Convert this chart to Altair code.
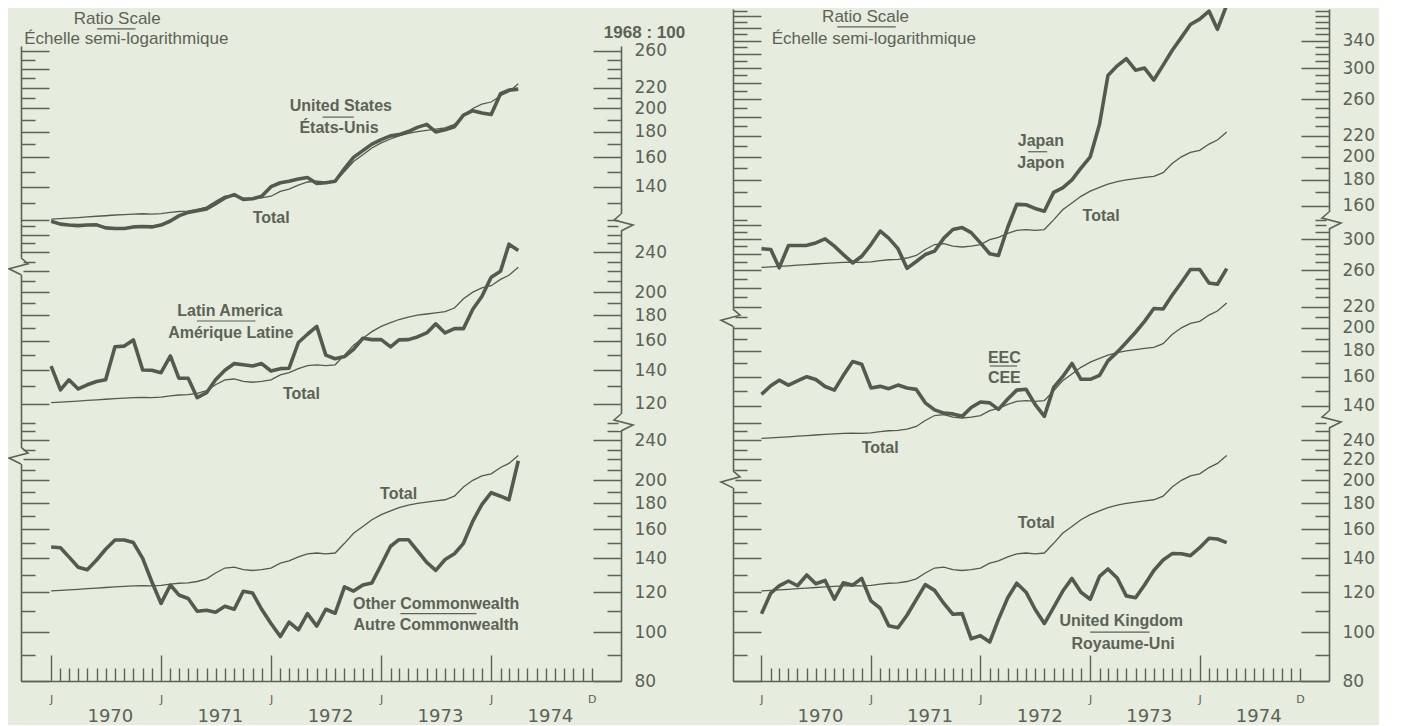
import altair as alt
import pandas as pd
import math

# ---------------- data (monthly, Jan 1970 - Apr 1974, 1968 = 100) ----------------
START = pd.Timestamp("1970-01-01")
DATES = [d.strftime("%Y-%m-%dT00:00:00") for d in pd.date_range("1970-01-01", periods=52, freq="MS")]

total = [120.7, 121, 121.3, 121.6, 122, 122.3, 122.6, 123, 123.2, 123.5,
         123.7, 123.5, 123.8, 124.5, 125, 125.2, 126, 127.5, 131, 134,
         134.5, 133, 132.5, 133, 134, 137, 138.5, 141, 143, 143.5,
         143, 143.5, 150, 157, 162, 167, 171, 174, 176.5, 178.5,
         180, 181, 182, 183, 186, 194, 200, 204, 206, 212,
         216, 224]

united_states = [119.5, 118, 117.5, 117.2, 117.5, 117.6, 116, 115.7, 115.7, 116.5,
                 116.7, 116.5, 117.5, 119.7, 122.5, 124.5, 125.5, 126.5, 129.5, 133,
                 135, 132, 132.5, 134, 140, 142.5, 143.5, 145, 146, 142,
                 142.5, 143.5, 152, 160, 165, 170, 173.5, 176.5, 177.5, 180,
                 183.5, 186, 179.7, 181.5, 184, 194, 198, 196, 194.5, 214,
                 217.5, 218.5]

latin_america = [142.7, 128, 134, 128.5, 131, 133, 134, 155.8, 156.3, 160.8,
                 140.1, 140, 138.4, 149.4, 135, 135, 123.5, 126.3, 134, 140,
                 144.3, 143.5, 142.7, 144.3, 139.5, 141, 141.3, 158.9, 165, 171,
                 150, 147.5, 149, 154, 162, 161, 161, 155.8, 160.8, 161,
                 163, 166, 173, 166, 169.3, 169.3, 185, 196, 214, 220,
                 249, 242]

other_commonwealth = [147.5, 147, 141, 134.5, 133, 139, 146, 152.3, 152.3, 150.5,
                      140, 126, 114, 124, 118.5, 116.6, 110, 110.5, 109.5, 112.5,
                      111, 120.5, 119.5, 111, 104, 98, 104.7, 101, 108.8, 102.8,
                      111, 109, 123, 120.6, 124, 125.2, 136, 148, 152.5, 152.5,
                      145, 137.5, 132.6, 139.3, 143, 150, 166, 179, 189, 186,
                      183, 218.7]

japan = [131.5, 131, 120.5, 133.4, 133.4, 133.5, 135, 137.5, 133, 128,
         123.2, 127, 134, 142.5, 138, 131.5, 120.2, 124, 128, 130,
         138, 143.5, 144.8, 141.5, 135, 128.5, 127.5, 145, 161, 160.7,
         158, 156, 170, 173.5, 180, 190, 200, 232, 290, 303,
         313, 297, 300, 284, 304, 325, 345, 366, 375, 389,
         358, 400]

eec = [147.6, 153.5, 157.5, 154, 157, 160, 158, 153, 150.5, 161,
       171.5, 169.4, 152, 153.1, 151.5, 154, 152, 151, 142, 137.5,
       135.5, 135, 133.5, 139, 142.5, 142, 137.8, 144.5, 150.5, 151.1,
       141, 133.5, 152.4, 160, 170, 158.1, 158.1, 161, 172, 179,
       187, 196, 206, 218.5, 218, 232, 246, 261, 261, 245.5,
       244, 262]

united_kingdom = [108.8, 119.5, 123.5, 126.3, 123.6, 129.8, 124.7, 126.6, 116.2, 125.3,
                  123.9, 127.8, 115.3, 111.5, 103, 102, 108, 116, 124.2, 121,
                  114, 108.5, 108.8, 97, 98.4, 95.6, 106, 117, 125, 120,
                  111, 104, 112, 120.5, 127.8, 120, 116.2, 129, 133.4, 128,
                  118, 117, 124, 132.5, 139, 143.1, 143, 141.8, 147, 153.5,
                  153, 150.5]

# tick labels shown on each right-hand axis
labels_lt = [260, 220, 200, 180, 160, 140]
labels_lm = [240, 200, 180, 160, 140, 120]
labels_lb = [240, 200, 180, 160, 140, 120, 100, 80]
labels_rt = [340, 300, 260, 220, 200, 180, 160]
labels_rm = [300, 260, 220, 200, 180, 160, 140]
labels_rb = [240, 220, 200, 180, 160, 140, 120, 100, 80]

# ---------------- annotations (label, month offset from Jan 1970, index value) ----------------
bold_us = [("United States", 31.6, 202.3), ("États-Unis", 31.4, 183.0), ("Total", 24.0, 121.6)]
plain_us = [("Ratio Scale", 7.2, 300.9), ("Échelle semi-logarithmique", 8.2, 274.6)]
bars_us = [(29.6, 33.0, 192.3), (5.0, 9.2, 287.5)]

bold_la = [("Latin America", 19.5, 183.4), ("Amérique Latine", 19.6, 166.2), ("Total", 27.3, 125.8)]
bars_la = [(15.9, 22.3, 175.3)]

bold_oc = [("Total", 37.9, 188.1), ("Other Commonwealth", 42.0, 113.6), ("Autre Commonwealth", 42.0, 103.3)]
bars_oc = [(38.1, 46.4, 108.8)]

bold_jp = [("Japan", 30.6, 214.9), ("Japon", 30.6, 194.7), ("Total", 37.2, 152.6)]
plain_jp = [("Ratio Scale", 11.4, 378.7), ("Échelle semi-logarithmique", 12.3, 343.2)]
bars_jp = [(29.2, 31.3, 204.7), (8.3, 14.7, 361.9)]

bold_eec = [("EEC", 26.6, 174.5), ("CEE", 26.6, 159.3), ("Total", 13.0, 115.4)]
bars_eec = [(25.0, 28.0, 168.0)]

bold_uk = [("Total", 30.1, 164.9), ("United Kingdom", 39.4, 105.1), ("Royaume-Uni", 39.6, 94.6)]
bars_uk = [(36.0, 42.5, 100.0)]

# scale breaks on the frame: (side, index value where the break sits)
breaks_lm = [("right", 274.3), ("left", 224.6)]
breaks_lb = [("right", 259.8), ("left", 223.4)]
breaks_rm = [("right", 325.7), ("left", 209.0)]
breaks_rb = [("right", 263.4), ("left", 200.4)]

# ---------------- styling ----------------
BG = "#e6ecde"
INK = "#5b6357"
LINE = "#535b50"
NUM_FONT = "DejaVu Sans"
TXT_FONT = "Liberation Sans"
TL, TS = 28, 14      # y-axis long / short tick
XL, XS = 26, 13      # x-axis long / short tick
PX_PER_LN = 219.0    # vertical pixels per natural-log unit (ratio scale)
ZIG = [(0, -9), (-7, -3), (12, 2), (0, 8)]   # break glyph (outward, down) in px


def at(m):
    return (START + pd.Timedelta(days=float(m) * 30.4375)).strftime("%Y-%m-%dT%H:%M:%S")


def dt(ts):
    return alt.DateTime(year=ts.year, month=ts.month, date=ts.day)


XDOM_L = (pd.Timestamp("1969-09-23"), pd.Timestamp("1975-03-08"))
XDOM_R = (pd.Timestamp("1969-09-28"), pd.Timestamp("1975-03-08"))
MONTH_TICKS = [alt.DateTime(year=y, month=m, date=1) for y in range(1970, 1975) for m in range(1, 13)]


def dash(test, long_, short):
    return {"condition": {"test": test, "value": [long_, 0]},
            "value": [0, long_ - short, short, 0]}


def subpanel(vals, ydom, labelled, width, height, xdom_ts, bottom,
             bold, plain, bars, breaks=None, rtitle=None):
    lo, hi = ydom
    first = int(-(-lo // 10) * 10)
    tick_vals = list(range(first, int(hi) + 1, 10))
    arr = "[" + ",".join(str(v) for v in labelled) + "]"
    xdom = [dt(xdom_ts[0]), dt(xdom_ts[1])]

    xs = alt.Scale(domain=xdom, nice=False)
    ys = alt.Scale(type="log", domain=[lo, hi], nice=False)
    df = pd.DataFrame({"date": DATES, "total": total, "value": vals})

    frame_vals = [xdom[0]] + [alt.DateTime(year=y, month=7, date=15) for y in range(1970, 1975)] + [xdom[1]]
    frame_axis = alt.Axis(
        orient="bottom", values=frame_vals, grid=True, gridColor=INK, gridWidth=1.6,
        gridOpacity={"condition": {"test": "month(datum.value) == 6", "value": 0}, "value": 1},
        ticks=False, tickSize=0, domain=bottom, domainColor=INK, domainWidth=1.6,
        labels=bottom,
        labelExpr="month(datum.value) == 6 ? timeFormat(datum.value, '%Y') : ''",
        labelFont=NUM_FONT, labelFontSize=18, labelColor=INK, labelPadding=26,
        labelFlush=False, labelOverlap=False, title=None)

    left_axis = alt.Axis(
        orient="left", offset=-TL, tickSize=TL, values=tick_vals, labels=False,
        domain=False, grid=False, tickColor=INK, tickWidth=1.5,
        tickDash=dash("datum.value % 20 == 0", TL, TS), title=None)

    rkw = dict(
        orient="right", offset=-TL, tickSize=TL, values=tick_vals, domain=False,
        grid=False, tickColor=INK, tickWidth=1.5,
        tickDash=dash(f"indexof({arr}, datum.value) >= 0", TL, TS),
        labelExpr=f"indexof({arr}, datum.value) >= 0 ? format(datum.value, 'd') : ''",
        labelFont=NUM_FONT, labelFontSize=17, labelColor=INK, labelPadding=13,
        labelOverlap=False, labelFlush=False)
    if rtitle:
        rkw.update(title=rtitle, titleAngle=0, titleAlign="center", titleBaseline="middle",
                   titleX=51, titleY=-14, titleFont=TXT_FONT, titleFontSize=17,
                   titleFontWeight="bold", titleColor=INK)
    else:
        rkw.update(title=None)
    right_axis = alt.Axis(**rkw)

    x_axis = None
    if bottom:
        x_axis = alt.Axis(
            orient="bottom", offset=-XL, tickSize=XL, values=MONTH_TICKS, domain=False,
            grid=False, tickColor=INK, tickWidth=1.4,
            tickDash=dash("month(datum.value) == 0", XL, XS),
            labelExpr="month(datum.value) == 0 ? 'J' : (month(datum.value) == 11 && year(datum.value) == 1974 ? 'D' : '')",
            labelFont=NUM_FONT, labelFontSize=11, labelColor=INK, labelPadding=12,
            labelOverlap=False, labelFlush=False, title=None)

    base = alt.Chart(df)
    t_line = base.mark_line(color=LINE, strokeWidth=1.3, clip=False).encode(
        x=alt.X("date:T", scale=xs, axis=frame_axis),
        y=alt.Y("total:Q", scale=ys, axis=left_axis))
    c_line = base.mark_line(color=LINE, strokeWidth=3.6, clip=False, strokeJoin="round").encode(
        x=alt.X("date:T", scale=xs, axis=x_axis),
        y=alt.Y("value:Q", scale=ys, axis=right_axis))

    layers = [t_line, c_line]

    if breaks:
        days = (xdom_ts[1] - xdom_ts[0]) / pd.Timedelta(days=1)
        ppd = width / days
        rows_bg, rows_z = [], []
        for k, (side, v0) in enumerate(breaks):
            edge = xdom_ts[1] if side == "right" else xdom_ts[0]
            sgn = 1 if side == "right" else -1
            for i, (o, d) in enumerate([(0, -9), (0, 8)]):
                rows_bg.append({"k": k, "i": i,
                                "date": (edge + pd.Timedelta(days=sgn * o / ppd)).strftime("%Y-%m-%dT%H:%M:%S"),
                                "v": v0 * math.exp(-d / PX_PER_LN)})
            for i, (o, d) in enumerate(ZIG):
                rows_z.append({"k": k, "i": i,
                               "date": (edge + pd.Timedelta(days=sgn * o / ppd)).strftime("%Y-%m-%dT%H:%M:%S"),
                               "v": v0 * math.exp(-d / PX_PER_LN)})
        for rows, col, w in ((rows_bg, BG, 5), (rows_z, INK, 1.6)):
            layers.append(alt.Chart(pd.DataFrame(rows)).mark_line(
                color=col, strokeWidth=w, clip=False).encode(
                x=alt.X("date:T", scale=xs, axis=None),
                y=alt.Y("v:Q", scale=ys, axis=None),
                detail="k:N", order="i:Q"))

    bdf = pd.DataFrame(bold, columns=["label", "m", "v"])
    bdf["date"] = bdf["m"].map(at)
    layers.append(alt.Chart(bdf).mark_text(
        font=TXT_FONT, fontSize=16, fontWeight="bold", color=INK,
        align="center", baseline="middle").encode(
        x=alt.X("date:T", scale=xs, axis=None),
        y=alt.Y("v:Q", scale=ys, axis=None),
        text="label:N"))

    if plain:
        pdf = pd.DataFrame(plain, columns=["label", "m", "v"])
        pdf["date"] = pdf["m"].map(at)
        layers.append(alt.Chart(pdf).mark_text(
            font=TXT_FONT, fontSize=17, color=INK,
            align="center", baseline="middle").encode(
            x=alt.X("date:T", scale=xs, axis=None),
            y=alt.Y("v:Q", scale=ys, axis=None),
            text="label:N"))

    rdf = pd.DataFrame(bars, columns=["m1", "m2", "v"])
    rdf["d1"] = rdf["m1"].map(at)
    rdf["d2"] = rdf["m2"].map(at)
    layers.append(alt.Chart(rdf).mark_rule(color=INK, strokeWidth=1.2).encode(
        x=alt.X("d1:T", scale=xs, axis=None), x2="d2:T",
        y=alt.Y("v:Q", scale=ys, axis=None)))

    return alt.layer(*layers).resolve_axis(x="independent", y="independent").properties(
        width=width, height=height)


spacer = alt.Chart(pd.DataFrame({"v": [0]})).mark_point(opacity=0).encode(
    x=alt.X("v:Q", axis=None), y=alt.Y("v:Q", axis=None)).properties(width=600, height=37)

LT = subpanel(united_states, (118.6, 266.0), labels_lt, 600, 177, XDOM_L, False,
              bold_us, plain_us, bars_us, rtitle="1968 : 100")
LM = subpanel(latin_america, (110.0, 274.3), labels_lm, 600, 200, XDOM_L, False,
              bold_la, None, bars_la, breaks=breaks_lm)
LB = subpanel(other_commonwealth, (80.0, 259.8), labels_lb, 600, 258, XDOM_L, True,
              bold_oc, None, bars_oc, breaks=breaks_lb)

RT = subpanel(japan, (149.2, 392.8), labels_rt, 596, 212, XDOM_R, False,
              bold_jp, plain_jp, bars_jp)
RM = subpanel(eec, (131.3, 325.7), labels_rm, 596, 199, XDOM_R, False,
              bold_eec, None, bars_eec, breaks=breaks_rm)
RB = subpanel(united_kingdom, (80.0, 263.4), labels_rb, 596, 261, XDOM_R, True,
              bold_uk, None, bars_uk, breaks=breaks_rb)

left = alt.vconcat(spacer, LT, LM, LB, spacing=0, bounds="flush")
right = alt.vconcat(RT, RM, RB, spacing=0, bounds="flush")

chart = alt.hconcat(left, right, spacing=32).properties(
    padding={"left": -3, "top": -7, "right": 4, "bottom": 0},
    background=BG,
).configure_view(stroke=None)

chart.save("out.html", embed_options={"renderer": "svg", "actions": False})
